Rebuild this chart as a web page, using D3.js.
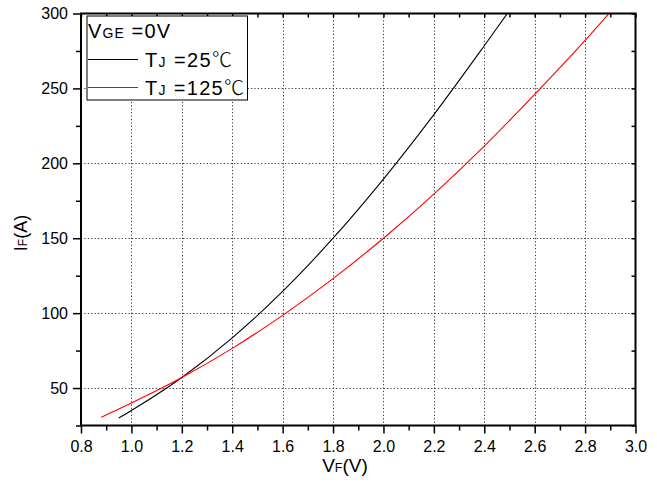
<!DOCTYPE html>
<html><head><meta charset="utf-8">
<script src="https://cdn.jsdelivr.net/npm/d3@7"></script>
<style>body{margin:0;background:#fff}svg{display:block}text{font-family:"Liberation Sans",Arial,sans-serif}</style>
</head><body>
<svg id="c" width="657" height="483"></svg>
<script>
const vf25 = [0.95,1.0,1.2,1.4,1.6,1.8,2.0,2.2,2.4,2.5];
const if25 = [30,35,57,83.5,114.5,150,189.5,232.5,278.5,302];
const vf125 = [0.88,1.0,1.2,1.4,1.6,1.8,2.0,2.2,2.4,2.6,2.8,2.9];
const if125 = [30.5,40,57,76.5,98.5,123,150,179.5,211.5,246,282,301];
const xTicks = [0.8,1.0,1.2,1.4,1.6,1.8,2.0,2.2,2.4,2.6,2.8,3.0];
const xMinor = [0.9,1.1,1.3,1.5,1.7,1.9,2.1,2.3,2.5,2.7,2.9];
const yTicks = [50,100,150,200,250,300];
const yMinor = [25,75,125,175,225,275];
const xDomain = [0.8,3.0], yDomain = [25,300];

(function(){
const svg = d3.select("#c");
const L=81, R=635.5, T=13.5, B=425.5;
const x = d3.scaleLinear().domain(xDomain).range([L,R]);
const y = d3.scaleLinear().domain(yDomain).range([B,T]);

// grid
const grid = svg.append("g").attr("stroke","#333").attr("stroke-width",1).attr("stroke-dasharray","1.2,2.2");
grid.selectAll("line.gx").data(xTicks.filter(v=>v>0.8&&v<3.0)).join("line")
  .attr("x1",d=>Math.round(x(d))+0.5).attr("x2",d=>Math.round(x(d))+0.5).attr("y1",T).attr("y2",B);
grid.selectAll("line.gy").data(yTicks.filter(v=>v<300)).join("line")
  .attr("y1",d=>Math.round(y(d))+0.5).attr("y2",d=>Math.round(y(d))+0.5).attr("x1",L).attr("x2",R);

// curves
svg.append("clipPath").attr("id","clip").append("rect").attr("x",L).attr("y",T).attr("width",R-L).attr("height",B-T);
const line = d3.line().x(d=>x(d[0])).y(d=>y(d[1])).curve(d3.curveMonotoneX);
const g = svg.append("g").attr("clip-path","url(#clip)");
g.append("path").datum(vf25.map((v,i)=>[v,if25[i]])).attr("d",line).attr("fill","none").attr("stroke","#000").attr("stroke-width",1.1);
g.append("path").datum(vf125.map((v,i)=>[v,if125[i]])).attr("d",line).attr("fill","none").attr("stroke","#ff0000").attr("stroke-width",1.1);

// axes
const axBottom = d3.axisBottom(x).tickValues(xTicks).tickSize(8).tickPadding(7).tickFormat(d3.format(".1f"));
const axBottomMinor = d3.axisBottom(x).tickValues(xMinor).tickSize(5).tickFormat("");
const axLeft = d3.axisLeft(y).tickValues(yTicks).tickSize(8).tickPadding(5).tickFormat(d3.format("d"));
const axLeftMinor = d3.axisLeft(y).tickValues(yMinor).tickSize(5).tickFormat("");
const axTop = d3.axisBottom(x).tickValues(xTicks.concat(xMinor)).tickSize(4).tickFormat("");
const axRight = d3.axisLeft(y).tickValues(yTicks.concat(yMinor)).tickSize(4).tickFormat("");

function style(sel){
  sel.select(".domain").remove();
  sel.selectAll("line").attr("stroke","#000").attr("stroke-width",1.5);
  sel.selectAll("text").attr("fill","#000").style("font-size","16px").style("font-family",'"Liberation Sans",Arial,sans-serif');
}
svg.append("g").attr("transform",`translate(0,${B})`).call(axBottom).call(style);
svg.append("g").attr("transform",`translate(0,${B})`).call(axBottomMinor).call(style);
svg.append("g").attr("transform",`translate(${L},0)`).call(axLeft).call(style);
svg.append("g").attr("transform",`translate(${L},0)`).call(axLeftMinor).call(style);
svg.append("g").attr("transform",`translate(0,${T})`).call(axTop).call(style);
svg.append("g").attr("transform",`translate(${R},0)`).call(axRight).call(style);

// frame
svg.append("rect").attr("x",L).attr("y",T).attr("width",R-L).attr("height",B-T)
  .attr("fill","none").attr("stroke","#000").attr("stroke-width",2);

// axis titles
const xt = svg.append("text").attr("x",345).attr("y",472).attr("text-anchor","middle").style("font-size","19px");
xt.append("tspan").text("V");
xt.append("tspan").text("F").style("font-size","12.5px");
xt.append("tspan").text("(V)");
const yt = svg.append("text").attr("transform","translate(26.5,233) rotate(-90)").attr("text-anchor","middle").style("font-size","18px");
yt.append("tspan").text("I");
yt.append("tspan").text("F").style("font-size","12px");
yt.append("tspan").text("(A)");

// legend
const lg = svg.append("g");
lg.append("rect").attr("x",87).attr("y",16).attr("width",160.5).attr("height",84).attr("fill","#fff").attr("stroke","#000").attr("stroke-width",1);
const t1 = lg.append("text").attr("x",88).attr("y",37.5).style("font-size","20px")
  .attr("textLength",82).attr("lengthAdjust","spacing");
t1.append("tspan").text("V"); t1.append("tspan").text("GE").style("font-size","14px"); t1.append("tspan").text(" =0V");
const items = [{label:"25", color:"#000", y:59.5, ty:67, w:87},{label:"125", color:"#ff0000", y:87.5, ty:95, w:99}];
items.forEach(it=>{
  lg.append("line").attr("x1",88).attr("x2",138).attr("y1",it.y).attr("y2",it.y).attr("stroke",it.color).attr("stroke-width",1.1);
  const t = lg.append("text").attr("x",145).attr("y",it.ty).style("font-size","20px")
    .attr("textLength",it.w).attr("lengthAdjust","spacing");
  t.append("tspan").text("T"); t.append("tspan").text("J").style("font-size","14px");
  t.append("tspan").text(" ="+it.label);
  t.append("tspan").text("℃").style("font-family",'"Noto Sans CJK SC",sans-serif').style("font-weight","300");
});
})();
</script>
</body></html>
